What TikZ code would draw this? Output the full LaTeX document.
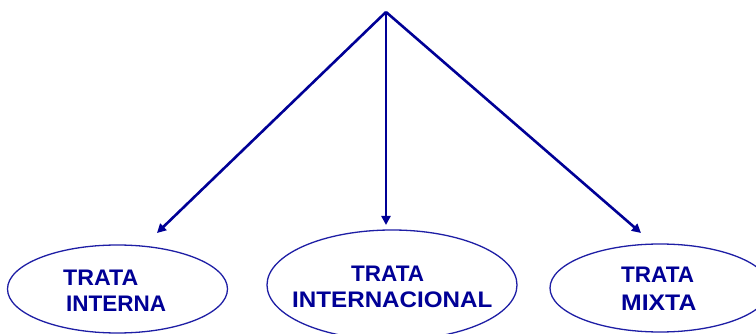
\documentclass[tikz,border=0pt]{standalone}
\usepackage{fontspec}
\setmainfont{Liberation Sans}
\usetikzlibrary{shapes.geometric,arrows.meta}
\definecolor{navy}{RGB}{0,0,150}
\definecolor{ringblue}{RGB}{30,30,165}
\begin{document}
\begin{tikzpicture}[x=1pt,y=-1pt,
  ring/.style={ellipse,draw=ringblue,line width=1.3pt,inner sep=0pt},
  lbl/.style={anchor=base west,inner sep=0pt,text=navy,font=\fontsize{22.5}{26}\selectfont\bfseries},
  branch/.style={draw=navy,line width=2.6pt,-{Triangle[length=9pt,width=9pt]}}]
\useasboundingbox (0,0) rectangle (756,334);
\clip (0,0) rectangle (756,334);
\fill[white] (0,0) rectangle (756,334);
\coordinate (apex) at (386,12);
\coordinate (endL) at (157,233);
\coordinate (endM) at (386,225);
\coordinate (endR) at (641,233);
\node[ring,minimum width=220pt,minimum height=88pt] (eL) at (117.5,289) {};
\node[ring,minimum width=250pt,minimum height=110pt] (eM) at (392,285) {};
\node[ring,minimum width=220pt,minimum height=88pt] (eR) at (660,288) {};
\node[lbl] (l1) at (63,285) {\scalebox{1.03}[1]{TRATA}};
\node[lbl] (l2) at (66,311) {INTERNA};
\node[lbl] (m1) at (351,282) {TRATA};
\node[lbl] (m2) at (292,308) {\scalebox{1.075}[1]{INTERNACIONAL}};
\node[lbl] (r1) at (621,283) {TRATA};
\node[lbl] (r2) at (621,310) {\scalebox{1.1}[1]{MIXTA}};
\draw[branch] (apex) -- (endL);
\draw[branch] (apex) -- (endM);
\draw[branch] (apex) -- (endR);
\end{tikzpicture}
\end{document}
